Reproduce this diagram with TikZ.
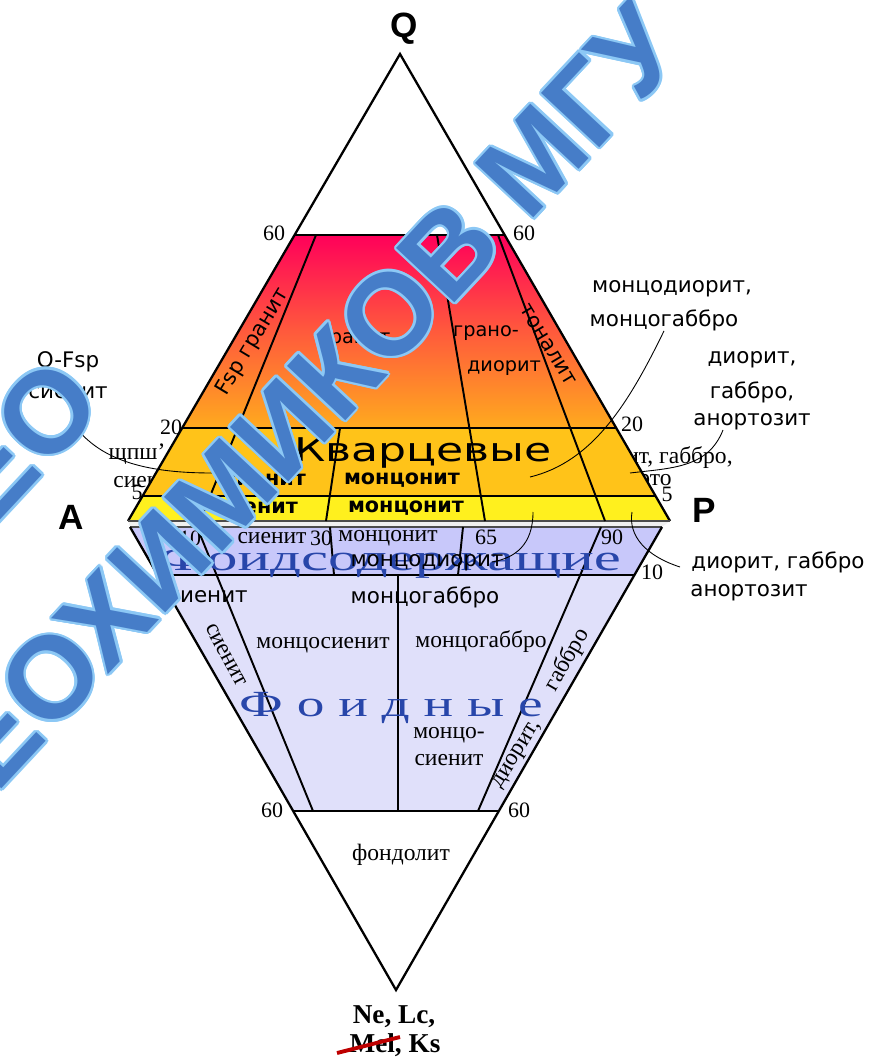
\documentclass[tikz,border=0pt]{standalone}
\usepackage{fontspec}
\usepackage{graphicx}
\usepackage{contour}
\setmainfont{Liberation Serif}
\newfontfamily\roundfont{DejaVu Sans}
\newfontfamily\headfont{Liberation Sans}
\usetikzlibrary{calc}
\newcommand{\fsz}[1]{\fontsize{#1}{#1}\selectfont}
\contourlength{1.4pt}
\definecolor{topred}{RGB}{255,0,90}
\definecolor{midred}{RGB}{255,90,60}
\definecolor{botorange}{RGB}{255,170,30}
\definecolor{qzband}{RGB}{255,195,25}
\definecolor{qzlow}{RGB}{255,240,30}
\definecolor{foidband}{RGB}{200,200,250}
\definecolor{foidfield}{RGB}{224,224,250}
\definecolor{foidblue}{RGB}{40,70,170}
\definecolor{markblue}{RGB}{70,125,200}
\definecolor{markedge}{RGB}{140,200,245}
\definecolor{strikered}{RGB}{190,0,0}
\begin{document}
\begin{tikzpicture}[x=0.02cm, y=-0.02cm,
  every node/.style={inner sep=0pt},
  triline/.style={line width=1.3pt},
  fieldline/.style={line width=1.1pt},
  leader/.style={line width=0.5pt},
  cornerlab/.style={font=\headfont\bfseries\fsz{20}},
  num/.style={font=\fsz{12.5}},
  ser/.style={font=\fsz{13.4}},
  rnd/.style={font=\roundfont\fsz{12.2}},
  rndb/.style={font=\roundfont\bfseries\fsz{11.8}},
  foidtxt/.style={font=\fsz{21}, text=foidblue},
  wmark/.style={font=\headfont\bfseries\fsz{66}, text=markblue, rotate=47}]
  \useasboundingbox (0,0) rectangle (877,1057);
  \clip (0,0) rectangle (877,1057);
  % corners of the two triangles
  \coordinate (Q) at (400,54);
  \coordinate (A) at (128,521);
  \coordinate (P) at (670,521);
  \coordinate (L) at (130,527);
  \coordinate (R) at (662,527);
  \coordinate (F) at (396,990);
  \coordinate (q60l) at ($(Q)!0.3876!(A)$);
  \coordinate (q60r) at ($(Q)!0.3876!(P)$);
  \coordinate (q20l) at ($(Q)!0.8009!(A)$);
  \coordinate (q20r) at ($(Q)!0.8009!(P)$);
  \coordinate (q5l) at ($(Q)!0.9465!(A)$);
  \coordinate (q5r) at ($(Q)!0.9465!(P)$);
  \coordinate (f10l) at ($(L)!0.1037!(F)$);
  \coordinate (f10r) at ($(R)!0.1037!(F)$);
  \coordinate (f60l) at ($(L)!0.6134!(F)$);
  \coordinate (f60r) at ($(R)!0.6134!(F)$);
  % labels half hidden behind the fields
  \node[ser] (lSh) at (137,454) {щпш’};
  \node[ser, anchor=west] (lSy0) at (113,482) {сиенит};
  \node[ser, anchor=east] (rBh1) at (733,458) {диорит, габбро,};
  \node[ser, anchor=east] (rBh2) at (672,482) {анорто};
  % fields
  \shade[top color=topred, bottom color=botorange, middle color=midred]
    (q60l) -- (q60r) -- (q20r) -- (q20l) -- cycle;
  \fill[qzband] (q20l) -- (q20r) -- (q5r) -- (q5l) -- cycle;
  \fill[qzlow] (q5l) -- (q5r) -- (P) -- (A) -- cycle;
  \fill[gray!12] (A) -- (P) -- (R) -- (L) -- cycle;
  \fill[foidband] (L) -- (R) -- (f10r) -- (f10l) -- cycle;
  \fill[foidfield] (f10l) -- (f10r) -- (f60r) -- (f60l) -- cycle;
  % outlines
  \draw[triline] (A) -- (Q) -- (P);
  \draw[triline, black!70] (A) -- (P);
  \draw[triline, black!70] (L) -- (R);
  \draw[triline] (L) -- (F) -- (R);
  \draw[fieldline] (q60l) -- (q60r);
  \draw[fieldline] (q20l) -- (q20r);
  \draw[fieldline] (q5l) -- (q5r);
  \draw[fieldline] (f10l) -- (f10r);
  \draw[fieldline] (f60l) -- (f60r);
  \draw[fieldline] (316,235) -- (200,521);
  \draw[fieldline] (437,235) -- (485,521);
  \draw[fieldline] (498,235) -- (605,521);
  \draw[fieldline] (340,428) -- (326,521);
  \draw[fieldline] (197,527) -- (313,811);
  \draw[fieldline] (398,575) -- (398,811);
  \draw[fieldline] (601,527) -- (478,811);
  \draw[fieldline] (330,527) -- (334,575);
  \draw[fieldline] (463,527) -- (458,575);
  % apex labels and numbers
  \node[cornerlab] (lQ) at (404,29) {Q};
  \node[cornerlab] (lA) at (71,517) {A};
  \node[cornerlab] (lP) at (704,510) {P};
  \node[num] (n60l) at (274,233) {60};
  \node[num] (n60r) at (524,233) {60};
  \node[num] (n20l) at (171,427) {20};
  \node[num] (n20r) at (632,424) {20};
  \node[num] (n5l) at (137,492) {5};
  \node[num] (n5r) at (667,494) {5};
  \node[num] (b10) at (190,538) {10};
  \node[num] (b30) at (321,538) {30};
  \node[num] (b65) at (486,537) {65};
  \node[num] (b90) at (612,537) {90};
  \node[num] (b10r) at (652,572) {10};
  \node[num] (f60a) at (272,810) {60};
  \node[num] (f60b) at (519,810) {60};
  % quartz fields
  \node[rnd, font=\roundfont\fsz{12}, rotate=59] (tFsp) at (253,342) {Fsp гранит};
  \node[rnd, font=\roundfont\fsz{11}] (tGr) at (355,340) {гранит};
  \node[rnd, font=\roundfont\fsz{11}] (tGd1) at (486,333) {грано-};
  \node[rnd, font=\roundfont\fsz{11}] (tGd2) at (504,368) {диорит};
  \node[rnd, font=\roundfont\fsz{12}, rotate=-59] (tTon) at (548,345) {тоналит};
  \node[font=\roundfont\fsz{18.6}] (tQz) at (423,453) {\scalebox{1.35}[1]{Кварцевые}};
  \node[rndb] (tSy1) at (265,480) {сиенит};
  \node[rndb] (tMz1) at (402,480) {монцонит};
  \node[rndb] (tSy2) at (257,508) {сиенит};
  \node[rndb] (tMz2) at (406,508) {монцонит};
  % labels outside
  \node[rnd] (rMd1) at (672,289) {монцодиорит,};
  \node[rnd] (rMd2) at (664,320) {монцогаббро};
  \node[rnd] (rDi1) at (752,360) {диорит,};
  \node[rnd] (rDi2) at (752,392) {габбро,};
  \node[rnd] (rDi3) at (752,422) {анортозит};
  \node[rnd] (rDi4) at (778,562) {диорит, габбро};
  \node[rnd] (rDi5) at (749,593) {анортозит};
  \node[rnd] (lQf1) at (68,362) {Q-Fsp};
  \node[rnd] (lQf2) at (68,393) {сиенит};
  % foid-bearing band
  \node[ser] (bSy) at (272,538) {сиенит};
  \node[ser] (bMz) at (388,538) {монцонит};
  \node[foidtxt] (bFoid) at (390,562) {\scalebox{1.65}[1]{Фоидсодержащие}};
  \node[rnd] (bMd) at (427,563) {монцодиорит};
  \node[rnd] (bSy2) at (208,597) {сиенит};
  \node[rnd] (bMg) at (425,597) {монцогаббро};
  % foid fields
  \node[ser, rotate=-62] (fSy) at (226,655) {сиенит};
  \node[ser] (fMs) at (323,645) {монцосиенит};
  \node[ser] (fMg) at (481,642) {монцогаббро};
  \node[foidtxt] (fFoid) at (391,708) {\scalebox{1.5}[1]{Ф о и д н ы е}};
  \node[ser] (fMs1) at (449,735) {монцо-};
  \node[ser] (fMs2) at (449,760) {сиенит};
  \node[ser, rotate=60] (fGb) at (567,660) {габбро};
  \node[ser, rotate=58] (fDi) at (518,755) {диорит,};
  \node[ser] (fFd) at (401,855) {фондолит};
  \node[font=\bfseries\fsz{15.5}] (lF1) at (394,1017) {Ne, Lc,};
  \node[font=\bfseries\fsz{15.5}] (lF2) at (395,1045) {Mel, Ks};
  \draw[strikered, line width=2.2pt] (337,1053) -- (400,1037);
  % leaders
  \coordinate (mdEnd) at (530,477);
  \coordinate (anStart) at (723,430);
  \coordinate (anEnd) at (630,473);
  \coordinate (dgStart) at (680,567);
  \coordinate (dgEnd) at (632,512);
  \coordinate (bmStart) at (533,512);
  \coordinate (bmEnd) at (492,562);
  \coordinate (qfStart) at (78,430);
  \coordinate (qfEnd) at (212,473);
  \draw[leader] (rMd2.south) .. controls (628,405) and (592,462) .. (mdEnd);
  \draw[leader] (anStart) .. controls (708,468) and (672,468) .. (anEnd);
  \draw[leader] (dgStart) .. controls (646,556) and (628,536) .. (dgEnd);
  \draw[leader] (bmStart) .. controls (533,545) and (515,558) .. (bmEnd);
  \draw[leader] (qfStart) .. controls (105,462) and (150,473) .. (qfEnd);
  % watermark
  \node[wmark] (wm1) at (292,421) {\contour{markedge}{ГЕОХИМИКОВ МГУ}};
  \node[wmark] (wm2) at (-1,465) {\contour{markedge}{ГЕО}};
\end{tikzpicture}
\end{document}
